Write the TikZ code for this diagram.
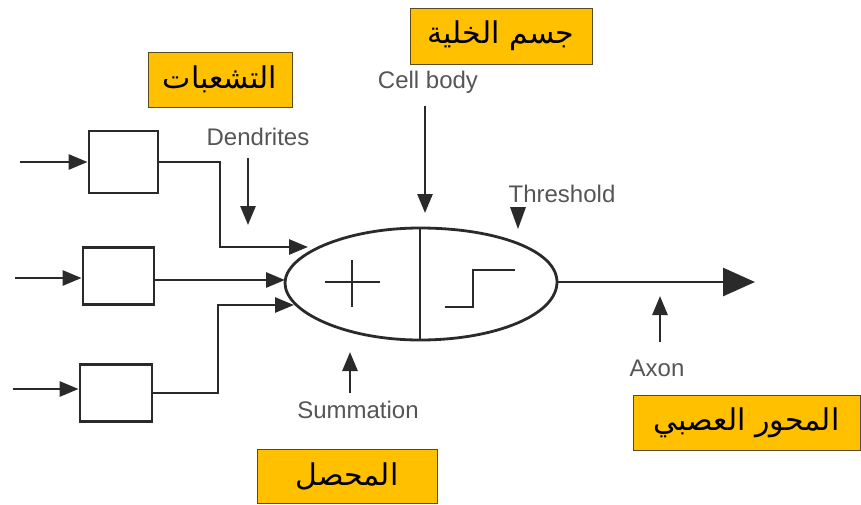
\documentclass[tikz,border=0pt]{standalone}
\usepackage{fontspec}
\setmainfont{Liberation Sans}
\newfontfamily\arabicfont[Script=Arabic]{DejaVu Sans}
\TeXXeTstate=1
\usetikzlibrary{arrows.meta}
\definecolor{ylw}{HTML}{FFC000}
\definecolor{ink}{HTML}{2A2A2A}
\definecolor{lblgray}{HTML}{555555}
\definecolor{yborder}{HTML}{5A4A20}
\begin{document}
\begin{tikzpicture}[x=1pt,y=-1pt,
  wire/.style={draw=ink,line width=2.8pt},
  smalltip/.style={-{Triangle[length=19pt,width=15pt]}},
  bigtip/.style={-{Triangle[length=32pt,width=28pt]}},
  cellbox/.style={draw=ink,line width=2.8pt,fill=white,inner sep=0pt},
  lbl/.style={text=lblgray,font=\fontsize{24}{28}\selectfont,inner sep=0pt},
  ybox/.style={draw=yborder,line width=1pt,fill=ylw,inner sep=0pt,
    font=\arabicfont\fontsize{30}{34}\selectfont},
]
\useasboundingbox (0,0) rectangle (861,504);

% input boxes
\node[cellbox,minimum width=69pt,minimum height=62pt] (b1) at (123.5,162) {};
\node[cellbox,minimum width=71pt,minimum height=57pt] (b2) at (118.5,276) {};
\node[cellbox,minimum width=72pt,minimum height=57pt] (b3) at (116,393) {};

% input arrows
\coordinate (i1) at (20,162);
\coordinate (i2) at (15,278);
\coordinate (i3) at (13,389);
\draw[wire,smalltip] (i1) -- (i1 -| b1.west);
\draw[wire,smalltip] (i2) -- (i2 -| b2.west);
\draw[wire,smalltip] (i3) -- (i3 -| b3.west);

% soma (cell body)
\coordinate (sL) at (285,283);
\coordinate (sT) at (420,228);
\coordinate (sR) at (557,282);
\coordinate (sB) at (420,340);
\draw[wire] (sL) .. controls (285,255) and (345,228) .. (sT)
  .. controls (495,228) and (557,250) .. (sR)
  .. controls (557,315) and (495,340) .. (sB)
  .. controls (345,340) and (285,312) .. (sL);
\draw[wire] (sT) -- (sB);

% plus sign
\coordinate (p1) at (325,282);
\coordinate (p2) at (380,282);
\coordinate (p3) at (352,260);
\coordinate (p4) at (352,307);
\draw[draw=ink,line width=2.2pt] (p1) -- (p2) (p3) -- (p4);

% step (threshold) symbol
\coordinate (s1) at (445,307);
\coordinate (s2) at (473,270);
\coordinate (s3) at (515,270);
\draw[draw=ink,line width=2.2pt] (s1) -| (s2) -- (s3);

% connections from boxes to soma
\coordinate (k1) at (220,247);
\coordinate (t1) at (308,247);
\coordinate (t2) at (285,280);
\coordinate (k3) at (218,305);
\coordinate (t3) at (294,305);
\draw[wire,smalltip] (b1.east) -| (k1) -- (t1);
\draw[wire,smalltip] (b2.east |- t2) -- (t2);
\draw[wire,smalltip] (b3.east) -| (k3) -- (t3);

% axon
\coordinate (ax) at (755,282);
\draw[wire,bigtip] (sR) -- (ax);

% English labels and pointers
\node[lbl] (dend) at (258,137) {Dendrites};
\coordinate (da) at (248,158);
\coordinate (db) at (248,225);
\draw[wire,smalltip] (da) -- (db);

\node[lbl] (cell) at (428,82) {Cell body};
\coordinate (ca) at (425,106);
\coordinate (cb) at (425,213);
\draw[wire,smalltip] (ca) -- (cb);

\node[lbl] (thr) at (562,194) {Threshold};
\fill[ink] (510,207) -- (526,207) -- (518,229) -- cycle;

\node[lbl] (summ) at (358,410) {Summation};
\coordinate (sa) at (350,393);
\coordinate (sb) at (350,352);
\draw[wire,smalltip] (sa) -- (sb);

\node[lbl] (axon) at (657,368) {Axon};
\coordinate (aa) at (660,342);
\coordinate (ab) at (660,296);
\draw[wire,smalltip] (aa) -- (ab);

% Arabic labels
\node[ybox,minimum width=144pt,minimum height=55pt] (ar1) at (220,79.5) {\beginR التشعبات\endR};
\node[ybox,minimum width=182pt,minimum height=56pt] (ar2) at (501,36) {\beginR جسم الخلية\endR};
\node[ybox,minimum width=180pt,minimum height=54pt] (ar3) at (347,476) {\beginR المحصل\endR};
\node[ybox,minimum width=227pt,minimum height=55pt] (ar4) at (746.5,422.5) {\beginR المحور العصبي\endR};
\end{tikzpicture}
\end{document}
